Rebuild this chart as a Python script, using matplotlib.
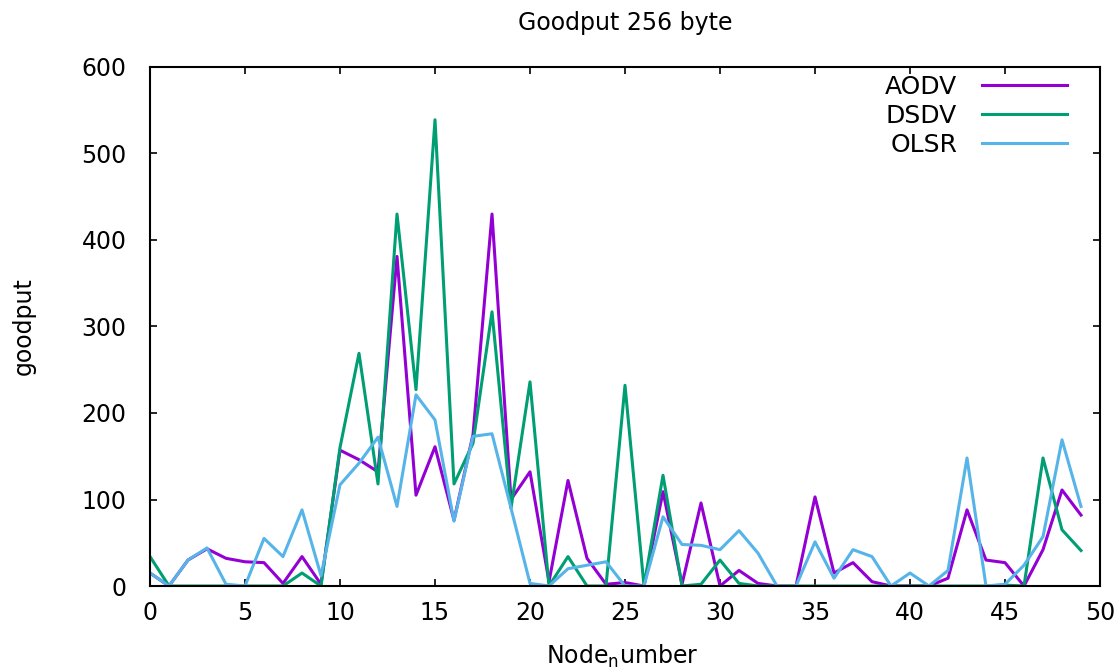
import matplotlib
matplotlib.use("Agg")
import matplotlib.pyplot as plt

nodes = list(range(50))
aodv = [15, 0, 30, 43, 32, 28, 27, 3, 34, 2,
        157, 146, 132, 381, 105, 161, 76, 175, 430, 100,
        132, 5, 122, 32, 2, 4, 0, 109, 2, 96,
        0, 18, 3, 0, 0, 103, 15, 27, 5, 0,
        0, 0, 9, 88, 30, 27, 0, 42, 111, 82]
dsdv = [34, 0, 0, 0, 0, 0, 0, 0, 15, 0,
        160, 269, 118, 430, 227, 539, 118, 165, 317, 90,
        236, 0, 34, 0, 0, 232, 0, 128, 0, 2,
        30, 3, 0, 0, 0, 0, 0, 0, 0, 0,
        0, 0, 0, 0, 0, 1, 0, 148, 65, 41]
olsr = [15, 0, 30, 44, 2, 0, 55, 34, 88, 12,
        117, 142, 172, 92, 221, 192, 75, 173, 176, 90,
        3, 0, 20, 24, 28, 0, 0, 80, 48, 47,
        42, 64, 38, 0, 0, 51, 9, 42, 34, 0,
        15, 0, 18, 148, 0, 2, 24, 57, 169, 92]
series_names = ["AODV", "DSDV", "OLSR"]
colors = ["#9400D3", "#009E73", "#56B4E9"]
xticks = [0, 5, 10, 15, 20, 25, 30, 35, 40, 45, 50]
yticks = [0, 100, 200, 300, 400, 500, 600]

plt.rcParams['font.family'] = ['DejaVu Sans']
plt.rcParams['mathtext.fontset'] = 'dejavusans'

fig = plt.figure(figsize=(11.2, 6.71), dpi=100)
ax = fig.add_axes([150/1120, 1-586/671, 950/1120, 519/671])

for vals, name, c in zip([aodv, dsdv, olsr], series_names, colors):
    ax.plot(nodes, vals, color=c, lw=2.2, label=name)

ax.set_xlim(0, 50)
ax.set_ylim(0, 600)
ax.set_xticks(xticks)
ax.set_yticks(yticks)
ax.tick_params(direction='in', top=True, right=True, length=5, width=1.2,
               labelsize=17)
ax.tick_params(axis='x', pad=11)
ax.tick_params(axis='y', pad=17)
for s in ax.spines.values():
    s.set_linewidth(1.5)

fig.text(625/1120, 1-23/671, "Goodput 256 byte", fontsize=17,
         ha='center', va='center')
ax.set_xlabel("Node$_{\\mathrm{n}}$umber", fontsize=17)
ax.xaxis.set_label_coords((622-150)/950, (586-643)/519)
ax.set_ylabel("goodput", fontsize=17)
ax.yaxis.set_label_coords((36-150)/950, 0.5)

leg = ax.legend(loc='upper right', frameon=False, markerfirst=False,
                prop={'size': 18},
                handlelength=3.4, handletextpad=1.0, labelspacing=0.2,
                borderaxespad=0.0, borderpad=0.0,
                bbox_to_anchor=((1067-150)/950, (586-75)/519))

fig.savefig("out.png", dpi=100)
